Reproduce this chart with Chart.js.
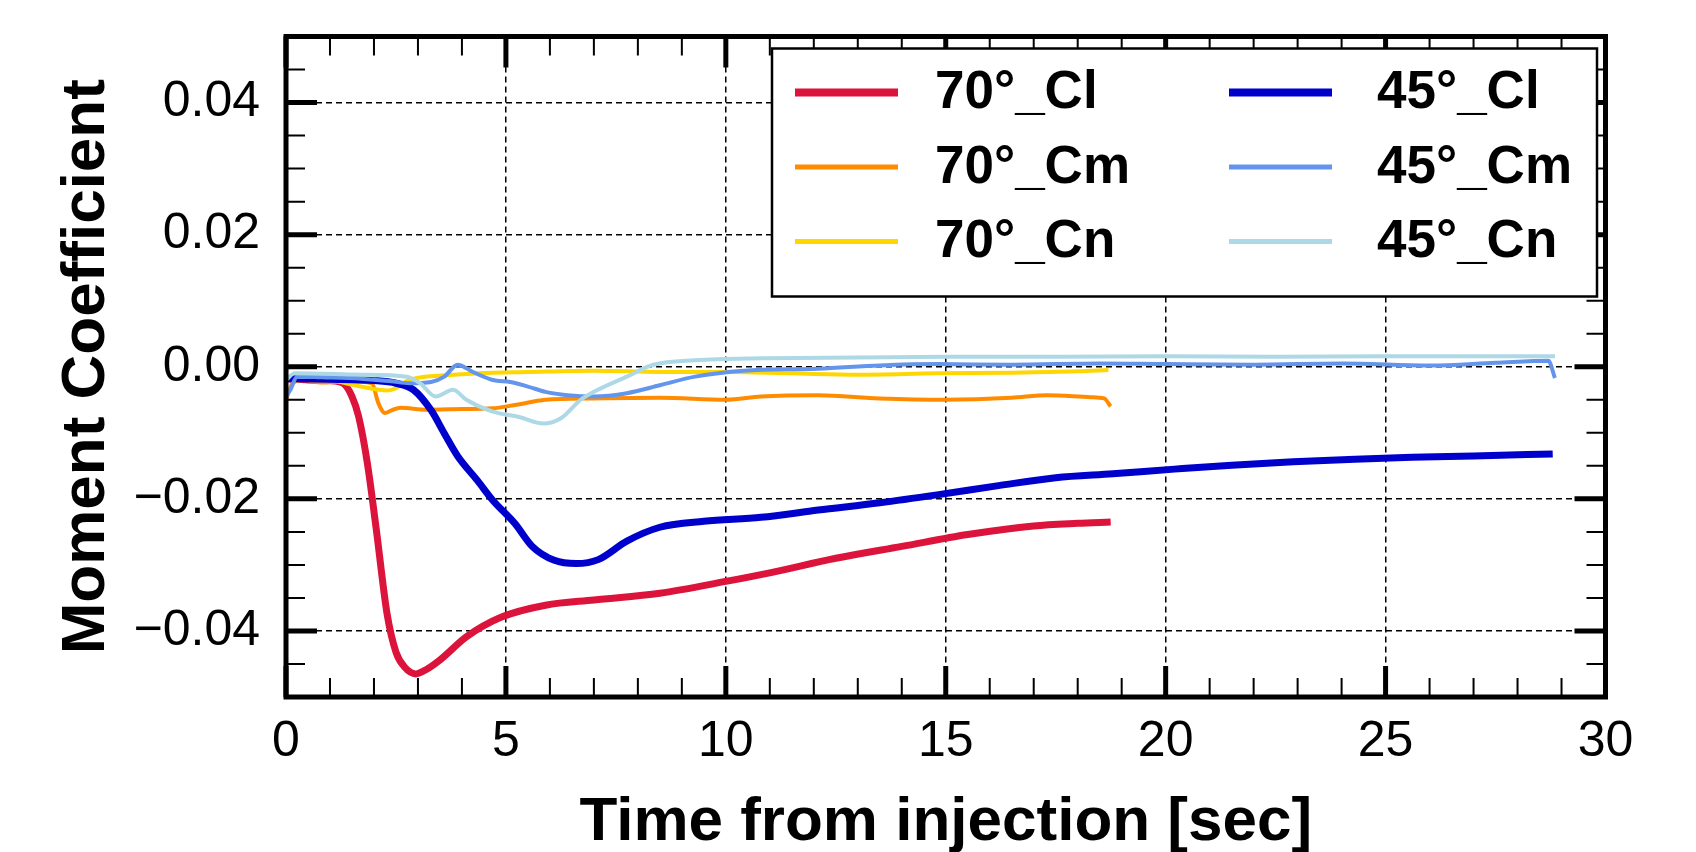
<!DOCTYPE html>
<html>
<head>
<meta charset="utf-8">
<script src="https://cdn.jsdelivr.net/npm/chart.js@4"></script>
<style>
  html, body { margin: 0; padding: 0; background: #fff; }
</style>
</head>
<body>
<canvas id="momentChart" width="1696" height="852"></canvas>
<script>
// time [sec] and coefficient values
const cl70T = [0, 0.5, 1.0, 1.3, 1.5, 1.65, 1.85, 2.05, 2.3, 2.5, 2.7, 2.95, 3.2, 3.5, 4.1, 4.9, 5.9, 7.0, 8.5, 10.0, 11.0, 12.5, 14.0, 15.5, 17.0, 18.0, 18.75];
const cl70V = [-0.0018, -0.0020, -0.0021, -0.0025, -0.0045, -0.0075, -0.0146, -0.0245, -0.0375, -0.0432, -0.0455, -0.0465, -0.0458, -0.0444, -0.0409, -0.0379, -0.0361, -0.0353, -0.0343, -0.0325, -0.0312, -0.0290, -0.0272, -0.0254, -0.0241, -0.0237, -0.0235];

const cm70T = [0, 0.15, 0.4, 0.8, 1.4, 1.95, 2.1, 2.25, 2.4, 2.6, 3.2, 4.0, 4.7, 5.2, 5.9, 7.0, 8.5, 10.0, 10.8, 12.1, 13.5, 15.0, 16.5, 17.3, 18.3, 18.6, 18.75];
const cm70V = [-0.0050, -0.0025, -0.0020, -0.0024, -0.0022, -0.0025, -0.0055, -0.0070, -0.0066, -0.0062, -0.0065, -0.0064, -0.0063, -0.0058, -0.0050, -0.0048, -0.0047, -0.0050, -0.0045, -0.0043, -0.0048, -0.0050, -0.0047, -0.0043, -0.0046, -0.0048, -0.0060];

const cn70T = [0, 0.5, 1.0, 1.7, 2.3, 2.45, 2.8, 3.6, 4.35, 5.5, 7.0, 8.5, 10.0, 11.5, 13.0, 14.8, 16.5, 18.0, 18.7];
const cn70V = [-0.0015, -0.0017, -0.0020, -0.0030, -0.0036, -0.0034, -0.0020, -0.0013, -0.0010, -0.0008, -0.0006, -0.0008, -0.0008, -0.0010, -0.0012, -0.0010, -0.0009, -0.0007, -0.0005];

const cl45T = [0, 1, 2, 2.5, 2.9, 3.3, 3.6, 3.9, 4.35, 4.7, 5.2, 5.6, 6.1, 6.6, 7.1, 7.75, 8.5, 9.5, 10.8, 12.1, 13.5, 14.8, 16.2, 17.5, 18.8, 20.2, 21.5, 22.9, 24.3, 25.6, 27.0, 28.8];
const cl45V = [-0.0018, -0.0019, -0.0021, -0.0025, -0.0035, -0.0066, -0.0101, -0.0135, -0.0172, -0.0202, -0.0237, -0.0272, -0.0293, -0.0298, -0.0292, -0.0264, -0.0243, -0.0234, -0.0228, -0.0217, -0.0206, -0.0194, -0.0180, -0.0168, -0.0162, -0.0155, -0.0149, -0.0144, -0.0140, -0.0137, -0.0135, -0.0132];

const cm45T = [0, 0.1, 0.25, 0.8, 1.7, 2.4, 2.8, 3.3, 3.6, 3.9, 4.25, 4.7, 5.1, 5.5, 5.9, 6.4, 7.0, 7.75, 8.5, 9.3, 10.4, 12.1, 13.5, 14.8, 16.5, 18.5, 20.0, 22.0, 24.0, 26.0, 27.5, 28.7, 28.85];
const cm45V = [-0.0045, -0.0035, -0.0015, -0.0016, -0.0018, -0.0022, -0.0025, -0.0023, -0.0015, 0.0003, -0.0008, -0.0020, -0.0023, -0.0030, -0.0038, -0.0043, -0.0045, -0.0040, -0.0028, -0.0015, -0.0006, -0.0003, 0.0002, 0.0004, 0.0003, 0.0005, 0.0004, 0.0003, 0.0005, 0.0002, 0.0006, 0.0009, -0.0017];

const cn45T = [0, 0.2, 1.7, 2.75, 3.05, 3.4, 3.8, 4.1, 4.7, 5.3, 5.85, 6.25, 6.7, 7.0, 7.75, 8.35, 9.3, 10.8, 13.0, 15.0, 17.5, 20.0, 22.5, 25.0, 27.0, 28.85];
const cn45V = [-0.0020, -0.0010, -0.0012, -0.0015, -0.0025, -0.0045, -0.0035, -0.0050, -0.0068, -0.0076, -0.0086, -0.0078, -0.0050, -0.0038, -0.0015, 0.0003, 0.0010, 0.0013, 0.0014, 0.0015, 0.0015, 0.0016, 0.0015, 0.0016, 0.0016, 0.0016];

const xTicks = [0, 5, 10, 15, 20, 25, 30];
const yTicks = [-0.04, -0.02, 0, 0.02, 0.04];

function zip(t, v) {
    return t.map((x, i) => ({ x: x, y: v[i] }));
}

function fmtY(v) {
    if (Math.abs(v) < 1e-9) return '0.00';
    return (v < 0 ? '\u2212' : '') + Math.abs(v).toFixed(2);
}

// inward ticks on all four sides plus the heavy frame
const frameTicks = {
    id: 'frameTicks',
    afterDatasetsDraw(chart) {
        const { ctx, chartArea: a, scales: { x, y } } = chart;
        ctx.save();
        ctx.strokeStyle = '#000';
        ctx.setLineDash([]);
        const tickX = (v, len, w) => {
            const px = x.getPixelForValue(v);
            ctx.lineWidth = w;
            ctx.beginPath();
            ctx.moveTo(px, a.bottom); ctx.lineTo(px, a.bottom - len);
            ctx.moveTo(px, a.top); ctx.lineTo(px, a.top + len);
            ctx.stroke();
        };
        const tickY = (v, len, w) => {
            const py = y.getPixelForValue(v);
            ctx.lineWidth = w;
            ctx.beginPath();
            ctx.moveTo(a.left, py); ctx.lineTo(a.left + len, py);
            ctx.moveTo(a.right, py); ctx.lineTo(a.right - len, py);
            ctx.stroke();
        };
        for (let t = 1; t < 30; t++) {
            if (t % 5) tickX(t, 19, 2);
        }
        for (let k = -9; k <= 9; k++) {
            if (Math.abs(k) % 4 !== 0) tickY(k * 0.005, 19, 2);
        }
        xTicks.forEach(t => tickX(t, 31, 5));
        yTicks.forEach(v => tickY(v, 31, 5));
        ctx.lineWidth = 5;
        ctx.strokeRect(a.left, a.top, a.right - a.left, a.bottom - a.top);
        ctx.restore();
    }
};

// two-column boxed legend in the upper right of the axes
const boxLegend = {
    id: 'boxLegend',
    afterDraw(chart) {
        const { ctx, chartArea: a } = chart;
        const left = a.right - 833.5;
        const top = a.top + 12;
        const w = 825, h = 248;
        ctx.save();
        ctx.fillStyle = '#fff';
        ctx.fillRect(left, top, w, h);
        ctx.strokeStyle = '#000';
        ctx.lineWidth = 2.5;
        ctx.strokeRect(left, top, w, h);
        ctx.font = 'bold 53px "Liberation Sans", Arial, sans-serif';
        ctx.textBaseline = 'middle';
        ctx.textAlign = 'left';
        chart.data.datasets.forEach((ds, i) => {
            const col = Math.floor(i / 3);
            const row = i % 3;
            const cx = left + (col === 0 ? 23 : 457);
            const cy = top + 44 + row * 74.5;
            ctx.strokeStyle = ds.borderColor;
            ctx.lineWidth = ds.borderWidth > 5 ? 8 : 5;
            ctx.beginPath();
            ctx.moveTo(cx, cy);
            ctx.lineTo(cx + 103, cy);
            ctx.stroke();
            ctx.fillStyle = '#000';
            ctx.fillText(ds.label, cx + (col === 0 ? 140 : 148), cy + 1);
        });
        ctx.restore();
    }
};

const lineStyle = { pointRadius: 0, fill: false, cubicInterpolationMode: 'monotone' };

new Chart(document.getElementById('momentChart').getContext('2d'), {
    type: 'line',
    data: {
        datasets: [
            Object.assign({ label: '70°_Cl', data: zip(cl70T, cl70V), borderColor: '#dc143c', borderWidth: 7, order: 6 }, lineStyle),
            Object.assign({ label: '70°_Cm', data: zip(cm70T, cm70V), borderColor: '#ff8c00', borderWidth: 4, order: 5 }, lineStyle),
            Object.assign({ label: '70°_Cn', data: zip(cn70T, cn70V), borderColor: '#ffd700', borderWidth: 4, order: 4 }, lineStyle),
            Object.assign({ label: '45°_Cl', data: zip(cl45T, cl45V), borderColor: '#0000cd', borderWidth: 7, order: 3 }, lineStyle),
            Object.assign({ label: '45°_Cm', data: zip(cm45T, cm45V), borderColor: '#6495ed', borderWidth: 4, order: 2 }, lineStyle),
            Object.assign({ label: '45°_Cn', data: zip(cn45T, cn45V), borderColor: '#add8e6', borderWidth: 4, order: 1 }, lineStyle)
        ]
    },
    options: {
        responsive: false,
        animation: false,
        layout: { padding: { top: 36.5, right: 90.5, left: 0, bottom: 0 } },
        plugins: {
            legend: { display: false },
            tooltip: { enabled: false }
        },
        scales: {
            x: {
                type: 'linear',
                min: 0,
                max: 30,
                afterBuildTicks: s => { s.ticks = xTicks.map(v => ({ value: v })); },
                afterFit: s => { s.height = 155; s.paddingLeft = 0; s.paddingRight = 0; },
                grid: { color: '#000', lineWidth: 1.5, drawTicks: false },
                border: { display: false, dash: [6, 4] },
                ticks: {
                    autoSkip: false,
                    maxRotation: 0,
                    padding: 15,
                    color: '#000',
                    font: { family: '"Liberation Sans", Arial, sans-serif', size: 50 }
                },
                title: {
                    display: true,
                    text: 'Time from injection [sec]',
                    color: '#000',
                    font: { family: '"Liberation Sans", Arial, sans-serif', size: 62, weight: 'bold', lineHeight: 0.9 },
                    padding: { top: 0, bottom: 1 }
                }
            },
            y: {
                min: -0.05,
                max: 0.05,
                afterBuildTicks: s => { s.ticks = yTicks.map(v => ({ value: v })); },
                afterFit: s => { s.width = 286; s.paddingTop = 0; s.paddingBottom = 0; },
                grid: { color: '#000', lineWidth: 1.5, drawTicks: false },
                border: { display: false, dash: [6, 4] },
                ticks: {
                    padding: 26,
                    color: '#000',
                    callback: v => fmtY(v),
                    font: { family: '"Liberation Sans", Arial, sans-serif', size: 50 }
                },
                title: {
                    display: true,
                    text: 'Moment Coefficient',
                    color: '#000',
                    font: { family: '"Liberation Sans", Arial, sans-serif', size: 62, weight: 'bold', lineHeight: 1 },
                    padding: { top: 55.5, bottom: 0 }
                }
            }
        }
    },
    plugins: [frameTicks, boxLegend]
});
</script>
</body>
</html>
